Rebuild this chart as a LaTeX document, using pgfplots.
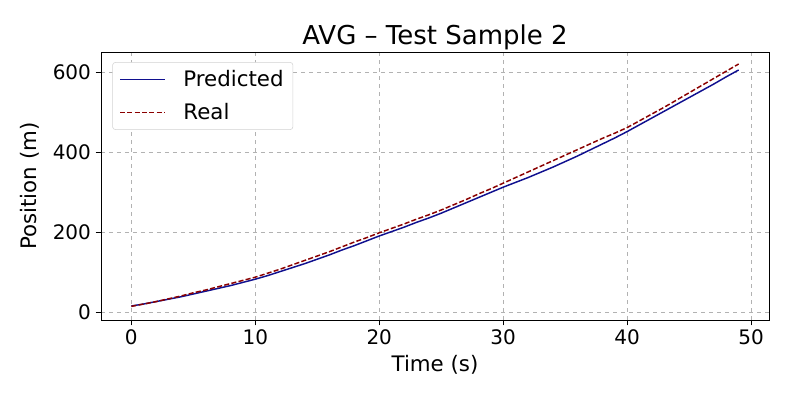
\documentclass[border=0pt]{standalone}
\usepackage{pgfplots}
\pgfplotsset{compat=1.18}
\usetikzlibrary{calc}
\usepackage{fontspec}
\setmainfont{DejaVu Sans}
\definecolor{predc}{HTML}{10108F}
\definecolor{realc}{HTML}{8B0000}
\begin{document}
\begin{tikzpicture}
\begin{axis}[
  scale only axis,
  width=501pt, height=201pt,
  xmin=-2.45, xmax=51.45,
  ymin=-20, ymax=650,
  xtick={0,10,20,30,40,50},
  ytick={0,200,400,600},
  tick align=outside, tick pos=left,
  major tick length=4pt,
  tick style={black, line width=0.6pt},
  axis line style={line width=0.6pt},
  grid=major,
  major grid style={dashed, gray!60, line width=0.5pt},
  /pgf/number format/assume math mode=true,
  ticklabel style={font=\fontsize{15}{17}\selectfont},
  xlabel={Time (s)}, ylabel={Position (m)},
  label style={font=\fontsize{16}{18}\selectfont},
  xlabel style={yshift=-1pt},
  ylabel style={yshift=3pt},
  title={AVG – Test Sample 2},
  title style={font=\fontsize{19.5}{22}\selectfont, yshift=-8pt},
  legend cell align=left,
  legend style={font=\fontsize{16}{18}\selectfont, draw=gray!35, rounded corners=2pt, inner xsep=5pt, inner ysep=4pt, at={(0.017,0.962)}, anchor=north west, row sep=7pt,
    /tikz/every odd column/.append style={column sep=11pt}},
  legend image code/.code={\draw[#1, line width=1.1pt] (0pt,0pt) -- (34pt,0pt);},
]
\addplot[predc, line width=1.1pt] coordinates {
(0,15)(1,20)(2,26)(3,32)(4,38)(5,45)(6,52)(7,59)(8,66)(9,74)(10,82)
(11,91)(12,101)(13,111)(14,121)(15,132)(16,143)(17,155)(18,166)(19,178)(20,190)
(21,201)(22,212)(23,224)(24,235)(25,247)(26,260)(27,273)(28,286)(29,299)(30,312)
(31,324)(32,336)(33,349)(34,362)(35,376)(36,390)(37,405)(38,420)(39,435)(40,451)
(41,468)(42,485)(43,502)(44,519)(45,536)(46,553)(47,570)(48,588)(49,605)
};
\addlegendentry{Predicted}
\addplot[realc, line width=1.1pt, dash pattern=on 3.8pt off 1.7pt] coordinates {
(0,14)(1,20)(2,26)(3,33)(4,40)(5,48)(6,55)(7,63)(8,71)(9,79)(10,87)
(11,97)(12,107)(13,118)(14,129)(15,140)(16,151)(17,163)(18,175)(19,186)(20,198)
(21,209)(22,220)(23,232)(24,243)(25,255)(26,268)(27,281)(28,295)(29,308)(30,322)
(31,336)(32,350)(33,364)(34,378)(35,392)(36,406)(37,420)(38,434)(39,447)(40,461)
(41,478)(42,495)(43,512)(44,530)(45,548)(46,566)(47,584)(48,602)(49,620)
};
\addlegendentry{Real}
\end{axis}
\path (current axis.south west) ++(-75.75pt,-57.75pt) rectangle ($(current axis.north east)+(18pt,39pt)$);
\end{tikzpicture}
\end{document}
